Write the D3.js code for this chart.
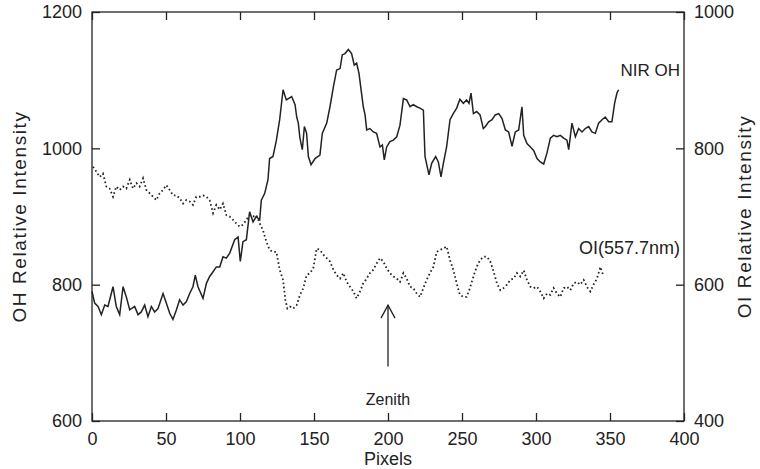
<!DOCTYPE html>
<html>
<head>
<meta charset="utf-8">
<script src="https://d3js.org/d3.v7.min.js"></script>
<style>
  body { margin: 0; background: #fff; }
  svg { display: block; }
  text { font-family: "Liberation Sans", Arial, Helvetica, sans-serif; fill: #222; }
</style>
</head>
<body>
<svg id="chart" width="760" height="469"></svg>
<script>

// ------------------------------------------------------
// DATA
// ------------------------------------------------------
var ohPixel = [0, 1.8, 4.1, 6.3, 8.6, 10.8, 14.2, 16.4, 18.7, 21, 23.2, 25.5, 28.8, 31.1, 33.3, 35.6, 37.8, 40.1, 42.3, 44.6,
    48, 50.2, 52.5, 54.7, 57, 59.2, 61.5, 63.7, 66, 68.2, 69.8, 71.6, 75, 77.3, 79.5, 81.8, 84, 86.3, 88.5, 90.8,
    93, 96.4, 98.7, 100.2, 102, 104.3, 106.5, 108.8, 111, 113.3, 114.4, 116.7, 118.9, 120, 122.3, 124.6, 126.8, 129.1, 131.3,
    132.7, 134.9, 137.2, 138.3, 139.4, 140.5, 142.1, 143.5, 145, 146.2, 148, 150.7, 154, 155.6, 158.6, 160.8, 163.1, 165.3,
    167.6, 169.1, 170.9, 173.2, 175.4, 177.2, 178.8, 180.4, 181.8, 183.3, 184.5, 185.6, 187.8, 190.1, 192.3, 194.6, 196.2,
    197.5, 199.1, 201.3, 203.6, 205.9, 208.1, 210.4, 212.6, 214.9, 217.1, 219.4, 221.6, 223.9, 225, 227.7, 229.5, 232.2,
    234, 235.8, 237.4, 239.6, 241.9, 244.1, 246.4, 248.6, 250.9, 253.1, 254.7, 256.1, 257.7, 259.9, 262.2, 264.4,
    265.8, 268, 270.3, 272.5, 274.8, 277, 279.3, 281.5, 283.8, 286, 288.3, 290.5, 291.7, 293.9, 296.2, 298.4, 300.7,
    302.9, 305.2, 307.4, 309.7, 311.9, 314.2, 316.4, 318.7, 320.9, 322.1, 324.3, 326.6, 328.8, 331.1, 333.3, 335.6,
    337.8, 340.1, 342.3, 344.6, 346.8, 349.1, 351.3, 353.1, 354.7, 355.8];
var ohValue = [790, 773, 768, 756, 770, 768, 797, 768, 756, 797, 782, 763, 768, 756, 760, 770, 753, 768, 760, 765,
    787, 773, 758, 749, 763, 778, 770, 775, 787, 797, 814, 797, 780, 802, 812, 819, 826, 826, 841, 839,
    846, 866, 870, 834, 863, 866, 907, 892, 900, 895, 924, 934, 954, 985, 988, 1012, 1042, 1086, 1071,
    1073, 1076, 1064, 1046, 1037, 1015, 998, 1032, 1022, 988, 976, 985, 990, 1022, 1037, 1061, 1090, 1115,
    1117, 1137, 1139, 1145, 1139, 1122, 1125, 1110, 1086, 1061, 1049, 1027, 1029, 1024, 1022, 1002, 1005,
    983, 1002, 1010, 1012, 1017, 1034, 1073, 1071, 1061, 1064, 1061, 1059, 1056, 988, 961, 978, 988,
    980, 958, 978, 1002, 1042, 1051, 1059, 1072, 1066, 1071, 1066, 1081, 1051, 1054, 1049, 1029,
    1032, 1039, 1042, 1049, 1051, 1044, 1027, 1024, 1003, 1024, 1027, 1061, 1019, 1007, 1002, 997, 985,
    980, 977, 993, 1015, 1019, 1017, 1019, 1015, 1012, 998, 1037, 1017, 1029, 1024, 1029, 1032,
    1024, 1022, 1037, 1042, 1046, 1039, 1039, 1066, 1081, 1086];

var oiPixel = [0.7, 2.9, 5.2, 7.4, 9.7, 11.9, 14.2, 16.4, 18.7, 21, 23.2, 25.5, 27.7, 30, 32.2, 34.5, 36.7, 39, 41.2, 43.5,
    45.7, 48, 50.2, 52.5, 54.7, 57, 59.2, 61.5, 63.7, 66, 68.2, 70.5, 72.7, 75, 77.3, 79.5, 81.8, 84, 86.3, 88.5,
    90.8, 93, 95.3, 97.5, 99.8, 102, 104.3, 106.5, 108.8, 111, 113.3, 115.5, 117.8, 120, 122.3, 124.6, 126.8, 129.1, 130.6,
    132, 133.8, 136, 138.3, 140.5, 142.8, 145, 147.3, 149.5, 151.8, 154, 156.3, 158.6, 160.8, 163.1, 165.3, 167.6,
    169.8, 172.1, 174.3, 176.6, 178.8, 181.1, 183.3, 185.6, 187.8, 190.1, 192.3, 194.6, 196.8, 199.1, 201.3, 203.6,
    205.9, 208.1, 210.4, 212.6, 214.9, 217.1, 219.4, 221.6, 223.9, 226.1, 228.4, 230.6, 232.9, 235.1, 237.4, 239.6,
    241.9, 244.1, 246.4, 248.6, 250.9, 253.1, 255.4, 257.7, 259.9, 262.2, 264.5, 266.9, 269.1, 271.4, 273.6, 275.9,
    278.1, 280.4, 282.6, 284.9, 287.1, 289.4, 291.7, 293.9, 296.2, 298.4, 300.7, 302.9, 305.2, 307.4, 309.7, 311.9,
    314.2, 316.4, 318.7, 320.9, 323.2, 325.4, 327.7, 329.9, 332.2, 334.4, 336.7, 338.9, 341.2, 343.5, 345.7];
var oiValue = [773, 766, 758, 763, 744, 741, 729, 744, 739, 744, 741, 754, 741, 749, 744, 756, 739, 734, 729, 724,
    734, 739, 746, 739, 731, 731, 727, 719, 724, 722, 717, 729, 729, 731, 729, 724, 705, 717, 710, 719,
    702, 700, 695, 690, 685, 688, 695, 702, 700, 702, 690, 680, 663, 651, 648, 648, 622, 607, 578,
    565, 568, 565, 570, 585, 595, 614, 617, 624, 653, 651, 644, 639, 634, 622, 614, 609,
    617, 604, 597, 590, 580, 590, 602, 609, 617, 622, 631, 639, 634, 624, 617, 612,
    609, 604, 617, 609, 597, 595, 587, 582, 595, 607, 617, 626, 648, 651, 653, 656,
    636, 622, 602, 585, 582, 582, 595, 612, 626, 636, 641, 641, 634, 619, 602, 592,
    595, 600, 607, 609, 617, 612, 621, 607, 597, 595, 597, 590, 580, 587, 585, 595,
    587, 582, 595, 597, 592, 602, 604, 600, 607, 597, 590, 600, 609, 626, 612];

var xTicks = [0, 50, 100, 150, 200, 250, 300, 350, 400];
var leftTicks = [600, 800, 1000, 1200];
var rightTicks = [400, 600, 800, 1000];

// ------------------------------------------------------
// Setup
// ------------------------------------------------------
var svg = d3.select("#chart");
var margin = {top: 12, right: 76, bottom: 48, left: 92},
    width = +svg.attr("width") - margin.left - margin.right,
    height = +svg.attr("height") - margin.top - margin.bottom;
var g = svg.append("g").attr("transform", "translate(" + margin.left + "," + margin.top + ")");

var x = d3.scaleLinear().domain([0, 400]).range([0, width]);
var yL = d3.scaleLinear().domain([600, 1200]).range([height, 0]);
var yR = d3.scaleLinear().domain([400, 1000]).range([height, 0]);

var ink = "#222";
var tickLen = 8;
var fmt = d3.format("d");

// frame
g.append("rect")
    .attr("width", width).attr("height", height)
    .attr("fill", "none").attr("stroke", ink).attr("stroke-width", 1.3);

// inward ticks on all four sides, labels only on bottom/left/right
function styleAxis(sel) {
    sel.select(".domain").remove();
    sel.selectAll(".tick line").attr("stroke", ink).attr("stroke-width", 1.3);
    sel.selectAll(".tick text").attr("font-size", 18).attr("fill", ink);
}

g.append("g")
    .attr("transform", "translate(0," + height + ")")
    .call(d3.axisBottom(x).tickValues(xTicks).tickFormat(fmt).tickSizeInner(-tickLen).tickSizeOuter(0).tickPadding(11))
    .call(styleAxis);

g.append("g")
    .call(d3.axisTop(x).tickValues(xTicks).tickSizeInner(-tickLen).tickSizeOuter(0).tickFormat(""))
    .call(styleAxis);

g.append("g")
    .call(d3.axisLeft(yL).tickValues(leftTicks).tickFormat(fmt).tickSizeInner(-tickLen).tickSizeOuter(0).tickPadding(10))
    .call(styleAxis);

g.append("g")
    .attr("transform", "translate(" + width + ",0)")
    .call(d3.axisRight(yR).tickValues(rightTicks).tickFormat(fmt).tickSizeInner(-tickLen).tickSizeOuter(0).tickPadding(10))
    .call(styleAxis);

// axis titles
g.append("text")
    .attr("x", width / 2).attr("y", height + 44)
    .attr("text-anchor", "middle").attr("font-size", 18)
    .text("Pixels");

g.append("text")
    .attr("transform", "translate(" + (-66) + "," + (height / 2) + ") rotate(-90)")
    .attr("text-anchor", "middle").attr("font-size", 19).attr("letter-spacing", 1.6)
    .text("OH Relative Intensity");

g.append("text")
    .attr("transform", "translate(" + (width + 67) + "," + (height / 2) + ") rotate(-90)")
    .attr("text-anchor", "middle").attr("font-size", 19).attr("letter-spacing", 1.6)
    .text("OI Relative Intensity");

// ------------------------------------------------------
// Series
// ------------------------------------------------------
var ohData = ohPixel.map(function(p, i) { return {p: p, v: ohValue[i]}; });
var oiData = oiPixel.map(function(p, i) { return {p: p, v: oiValue[i]}; });

g.append("path")
    .datum(ohData)
    .attr("fill", "none")
    .attr("stroke", ink)
    .attr("stroke-width", 1.5)
    .attr("d", d3.line().x(function(d) { return x(d.p); }).y(function(d) { return yL(d.v); }));

g.append("path")
    .datum(oiData)
    .attr("fill", "none")
    .attr("stroke", ink)
    .attr("stroke-width", 1.8)
    .attr("stroke-dasharray", "1.6 2.6")
    .attr("d", d3.line().x(function(d) { return x(d.p); }).y(function(d) { return yR(d.v); }));

// ------------------------------------------------------
// Annotations
// ------------------------------------------------------
g.append("text")
    .attr("x", width - 4).attr("y", yL(1106))
    .attr("text-anchor", "end").attr("font-size", 17)
    .text("NIR  OH");

g.append("text")
    .attr("x", width - 4).attr("y", yR(645))
    .attr("text-anchor", "end").attr("font-size", 18)
    .text("OI(557.7nm)");

var arrowX = x(200);
var arrowTop = yR(570);
g.append("line")
    .attr("x1", arrowX).attr("x2", arrowX)
    .attr("y1", arrowTop).attr("y2", yR(480))
    .attr("stroke", ink).attr("stroke-width", 1.3);
g.append("path")
    .attr("d", "M" + (arrowX - 7) + "," + (arrowTop + 13) + "L" + arrowX + "," + arrowTop + "L" + (arrowX + 7) + "," + (arrowTop + 13))
    .attr("fill", "none").attr("stroke", ink).attr("stroke-width", 1.3);

g.append("text")
    .attr("x", arrowX).attr("y", yR(424))
    .attr("text-anchor", "middle").attr("font-size", 16)
    .text("Zenith");

</script>
</body>
</html>
